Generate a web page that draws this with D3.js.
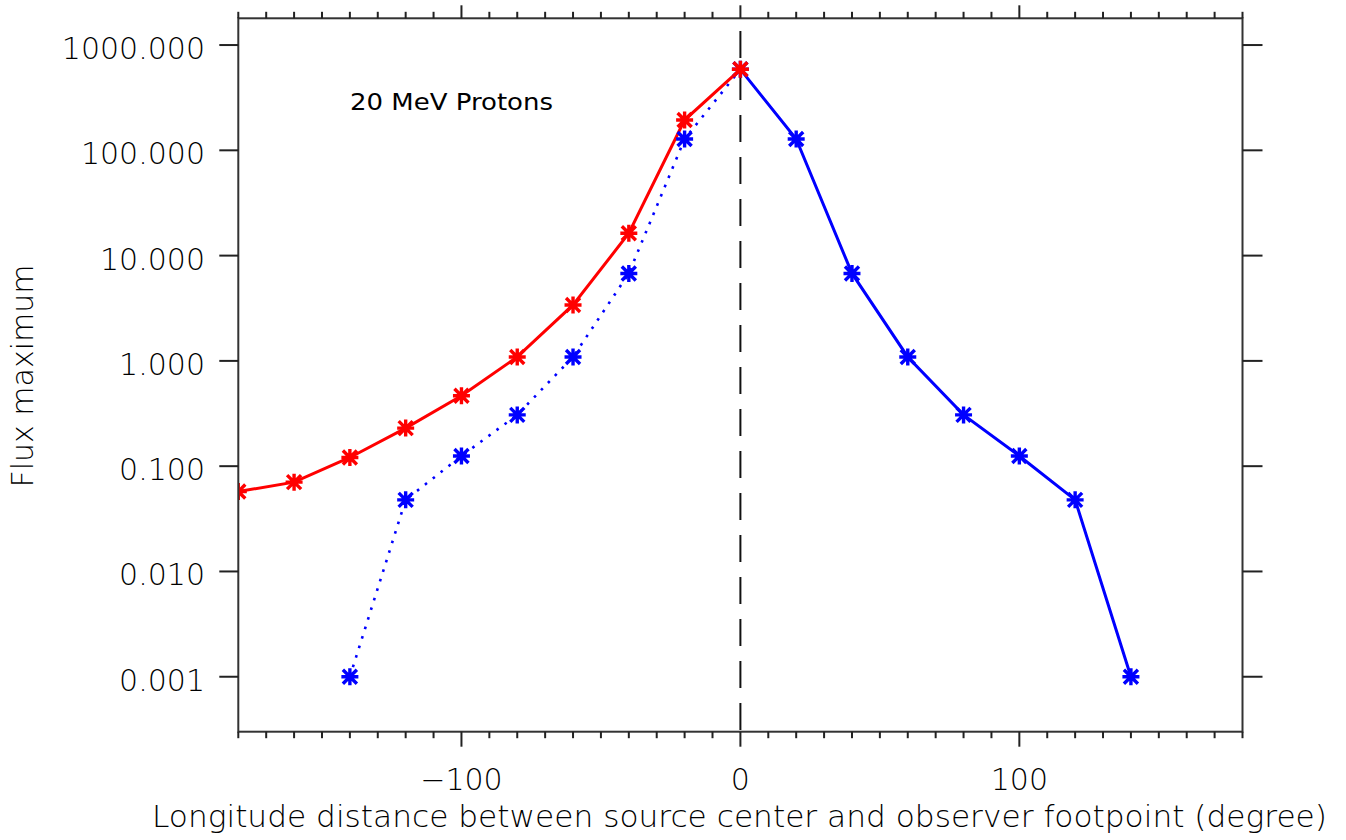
<!DOCTYPE html>
<html>
<head>
<meta charset="utf-8">
<script src="https://cdn.jsdelivr.net/npm/d3@7"></script>
<style>
  body { margin: 0; background: #fff; }
  svg text { font-family: "DejaVu Sans", sans-serif; fill: #000; }
</style>
</head>
<body>
<svg id="chart" width="1346" height="840"></svg>
<script>
// data
var redLon  = [-180, -160, -140, -120, -100, -80, -60, -40, -20, 0];
var redFlux = [0.0574, 0.0705, 0.121, 0.230, 0.466, 1.09, 3.40, 16.3, 194, 588];

var blueLon  = [-140, -120, -100, -80, -60, -40, -20, 0, 20, 40, 60, 80, 100, 120, 140];
var blueFlux = [0.001, 0.0479, 0.125, 0.307, 1.09, 6.77, 128, 588, 128, 6.77, 1.09, 0.307, 0.125, 0.0479, 0.001];

var xRange = [-180, 180];
var yRange = [Math.pow(10, -3.522), Math.pow(10, 3.254)];
var yTicks = [0.001, 0.01, 0.1, 1, 10, 100, 1000];
var xMajor = [-100, 0, 100];
var xMinor = d3.range(-180, 181, 10);

var L = 238.3, R = 1242.5, T = 18.3, B = 731.7;

var svg = d3.select("#chart");

var x = d3.scaleLinear().domain(xRange).range([L, R]);
var y = d3.scaleLog().domain(yRange).range([B, T]);

// clip for the data
svg.append("clipPath").attr("id", "plotclip")
    .append("rect").attr("x", L).attr("y", T).attr("width", R - L).attr("height", B - T);

var data = svg.append("g").attr("clip-path", "url(#plotclip)");

// dashed line at zero
data.append("line")
    .attr("x1", x(0)).attr("x2", x(0))
    .attr("y1", T).attr("y2", B)
    .style("stroke", "#111")
    .style("stroke-width", 2)
    .style("stroke-dasharray", "27 15")
    .style("stroke-dashoffset", 29.3);

var line = d3.line()
    .x(function(d){ return x(d[0]); })
    .y(function(d){ return y(d[1]); });

var red = redLon.map(function(d, i){ return [d, redFlux[i]]; });
var blue = blueLon.map(function(d, i){ return [d, blueFlux[i]]; });
var blueLeft = blue.filter(function(d){ return d[0] <= 0; });
var blueRight = blue.filter(function(d){ return d[0] >= 0; });

data.append("path").datum(blueLeft)
    .attr("d", line)
    .style("fill", "none")
    .style("stroke", "#0000ff")
    .style("stroke-width", 2.6)
    .style("stroke-dasharray", "2.6 7.4");

data.append("path").datum(blueRight)
    .attr("d", line)
    .style("fill", "none")
    .style("stroke", "#0000ff")
    .style("stroke-width", 3);

data.append("path").datum(red)
    .attr("d", line)
    .style("fill", "none")
    .style("stroke", "#ff0000")
    .style("stroke-width", 3);

// asterisk markers
var h = 8.5, dg = 7;
var star = "M0," + (-h) + "V" + h +
           "M" + (-h) + ",0H" + h +
           "M" + (-dg) + "," + (-dg) + "L" + dg + "," + dg +
           "M" + (-dg) + "," + dg + "L" + dg + "," + (-dg);

function drawMarks(pts, col) {
    data.selectAll(null)
        .data(pts)
        .enter().append("path")
        .attr("d", star)
        .attr("transform", function(d){ return "translate(" + x(d[0]) + "," + y(d[1]) + ")"; })
        .style("fill", "none")
        .style("stroke", col)
        .style("stroke-width", 3.4);
}
drawMarks(blue, "#0000ff");
drawMarks(red, "#ff0000");

// frame
svg.append("rect")
    .attr("x", L).attr("y", T).attr("width", R - L).attr("height", B - T)
    .style("fill", "none")
    .style("stroke", "#333")
    .style("stroke-width", 2);

// x ticks (outside, top and bottom)
var ticks = svg.append("g").style("stroke", "#222").style("stroke-width", 2);
xMinor.forEach(function(v){
    var big = xMajor.indexOf(v) >= 0;
    ticks.append("line").attr("x1", x(v)).attr("x2", x(v))
        .attr("y1", B).attr("y2", B + (big ? 15 : 6.5));
    ticks.append("line").attr("x1", x(v)).attr("x2", x(v))
        .attr("y1", T).attr("y2", T - (big ? 13 : 6.5));
});

// y ticks, both sides
yTicks.forEach(function(v){
    ticks.append("line").attr("x1", L).attr("x2", L - 19)
        .attr("y1", y(v)).attr("y2", y(v));
    ticks.append("line").attr("x1", R).attr("x2", R + 20)
        .attr("y1", y(v)).attr("y2", y(v));
});

// tick labels
var fmt = d3.format(".3f");
svg.selectAll(null)
    .data(yTicks)
    .enter().append("text")
    .attr("x", 205)
    .attr("y", function(d){ return y(d) + 14; })
    .attr("text-anchor", "end")
    .style("font-size", "30px")
    .style("font-weight", 200)
    .text(function(d){ return fmt(d); });

svg.selectAll(null)
    .data(xMajor)
    .enter().append("text")
    .attr("x", function(d){ return x(d); })
    .attr("y", 790)
    .attr("text-anchor", "middle")
    .style("font-size", "30px")
    .style("font-weight", 200)
    .text(function(d){ return d < 0 ? "\u2212" + Math.abs(d) : d; });

// axis titles
svg.append("text")
    .attr("x", 152)
    .attr("y", 827)
    .attr("textLength", 1175)
    .attr("lengthAdjust", "spacingAndGlyphs")
    .style("font-size", "30px")
    .style("font-weight", 200)
    .text("Longitude distance between source center and observer footpoint (degree)");

svg.append("text")
    .attr("transform", "translate(33,376) rotate(-90)")
    .attr("text-anchor", "middle")
    .style("font-size", "30px")
    .style("font-weight", 200)
    .text("Flux maximum");

// annotation
svg.append("text")
    .attr("x", 350)
    .attr("y", 110)
    .attr("textLength", 203)
    .attr("lengthAdjust", "spacingAndGlyphs")
    .style("font-size", "23px")
    .text("20 MeV Protons");
</script>
</body>
</html>
